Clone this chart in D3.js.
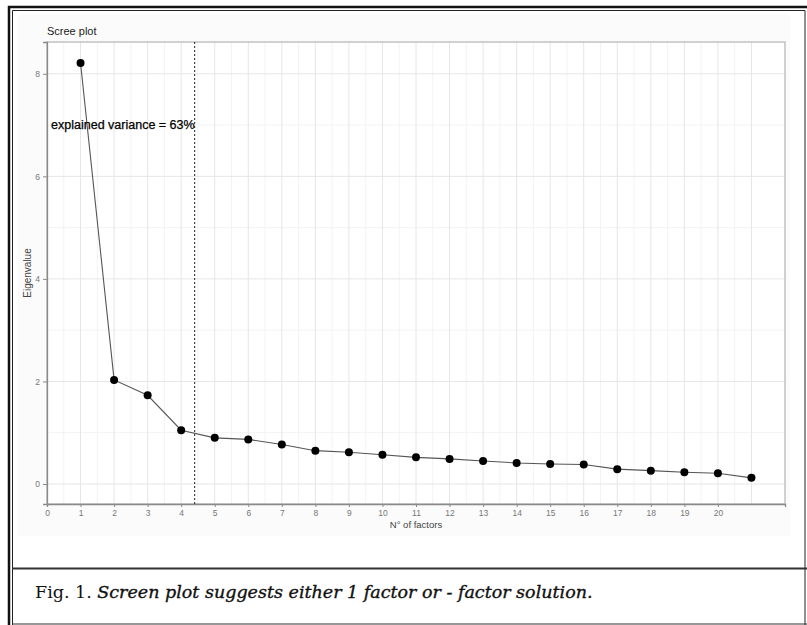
<!DOCTYPE html>
<html>
<head>
<meta charset="utf-8">
<script src="https://cdn.jsdelivr.net/npm/d3@7"></script>
<style>
  body { margin: 0; background: #fff; }
  svg { display: block; }
</style>
</head>
<body>
<svg></svg>
<script>
// scree plot values
var factors = [1, 2, 3, 4, 5, 6, 7, 8, 9, 10, 11, 12, 13, 14, 15, 16, 17, 18, 19, 20, 21];
var eigenvalues = [8.21, 2.03, 1.73, 1.05, 0.90, 0.87, 0.77, 0.65, 0.62, 0.57, 0.52,
                   0.49, 0.45, 0.41, 0.39, 0.38, 0.29, 0.26, 0.23, 0.21, 0.12];
var xTicks = [0, 1, 2, 3, 4, 5, 6, 7, 8, 9, 10, 11, 12, 13, 14, 15, 16, 17, 18, 19, 20];
var yTicks = [0, 2, 4, 6, 8];
var cutoff = 4.4;
var annotation = "explained variance = 63%";

var width = 807;
var height = 625;

var svg = d3.select("svg")
            .attr("width", width)
            .attr("height", height);

// figure frame (double border + caption separator)
var frame = svg.append("g");
frame.append("path")
  .attr("d", "M9,625 L9,7 L807,7")
  .attr("fill", "none")
  .attr("stroke", "#111")
  .attr("stroke-width", 2.5);
frame.append("path")
  .attr("d", "M12.5,625 L12.5,10.5 L805,10.5 L805,625")
  .attr("fill", "none")
  .attr("stroke", "#222")
  .attr("stroke-width", 1);
frame.append("line")
  .attr("x1", 12).attr("x2", 807)
  .attr("y1", 568.5).attr("y2", 568.5)
  .attr("stroke", "#333")
  .attr("stroke-width", 2);
frame.append("line")
  .attr("x1", 12).attr("x2", 807)
  .attr("y1", 624).attr("y2", 624)
  .attr("stroke", "#333")
  .attr("stroke-width", 1.2);

// plot background
svg.append("rect")
  .attr("x", 18).attr("y", 14)
  .attr("width", 772).attr("height", 522)
  .attr("fill", "#fbfbfb");

var panel = {left: 47, top: 42, right: 785, bottom: 504};

var x = d3.scaleLinear()
          .domain([0, 22])
          .range([panel.left, panel.right]);
var y = d3.scaleLinear()
          .domain([-0.39, 8.62])
          .range([panel.bottom, panel.top]);

svg.append("rect")
  .attr("x", panel.left).attr("y", panel.top)
  .attr("width", panel.right - panel.left)
  .attr("height", panel.bottom - panel.top)
  .attr("fill", "#fff");

// grid lines
var minorX = d3.range(0.5, 21.01, 1);
var minorY = [1, 3, 5, 7];
var grid = svg.append("g");
grid.selectAll(".gxm")
  .data(minorX)
  .enter()
  .append("line")
  .attr("x1", function(d) { return x(d); })
  .attr("x2", function(d) { return x(d); })
  .attr("y1", panel.top).attr("y2", panel.bottom)
  .attr("stroke", "#f3f3f3")
  .attr("stroke-width", 1);
grid.selectAll(".gym")
  .data(minorY)
  .enter()
  .append("line")
  .attr("x1", panel.left).attr("x2", panel.right)
  .attr("y1", function(d) { return y(d); })
  .attr("y2", function(d) { return y(d); })
  .attr("stroke", "#f3f3f3")
  .attr("stroke-width", 1);
grid.selectAll(".gx")
  .data(xTicks.concat([21]))
  .enter()
  .append("line")
  .attr("x1", function(d) { return x(d); })
  .attr("x2", function(d) { return x(d); })
  .attr("y1", panel.top).attr("y2", panel.bottom)
  .attr("stroke", "#e6e6e6")
  .attr("stroke-width", 1);
grid.selectAll(".gy")
  .data(yTicks)
  .enter()
  .append("line")
  .attr("x1", panel.left).attr("x2", panel.right)
  .attr("y1", function(d) { return y(d); })
  .attr("y2", function(d) { return y(d); })
  .attr("stroke", "#e6e6e6")
  .attr("stroke-width", 1);

// panel border
svg.append("rect")
  .attr("x", panel.left).attr("y", panel.top)
  .attr("width", panel.right - panel.left)
  .attr("height", panel.bottom - panel.top)
  .attr("fill", "none")
  .attr("stroke", "#b3b3b3")
  .attr("stroke-width", 1.2);

// axes
var xAxis = d3.axisBottom(x)
              .tickValues(xTicks)
              .tickSize(3)
              .tickPadding(3)
              .tickFormat(d3.format("d"));
var yAxis = d3.axisLeft(y)
              .tickValues(yTicks)
              .tickSize(4)
              .tickPadding(3)
              .tickFormat(d3.format("d"));

var gx = svg.append("g")
  .attr("transform", "translate(0," + panel.bottom + ")")
  .call(xAxis);
var gy = svg.append("g")
  .attr("transform", "translate(" + panel.left + ",0)")
  .call(yAxis);

[gx, gy].forEach(function(g) {
  g.select(".domain").attr("stroke", "#8a8a8a").attr("stroke-width", 1.3);
  g.selectAll(".tick line").attr("stroke", "#8a8a8a");
  g.selectAll(".tick text")
    .attr("fill", "#777")
    .attr("font-family", "Liberation Sans, Arial, sans-serif")
    .attr("font-size", "8.5px");
});

// cutoff line
svg.append("line")
  .attr("x1", x(cutoff)).attr("x2", x(cutoff))
  .attr("y1", panel.top).attr("y2", panel.bottom)
  .attr("stroke", "#444")
  .attr("stroke-width", 1.2)
  .attr("stroke-dasharray", "2,2");

// scree line and points
var data = factors.map(function(f, i) { return {f: f, v: eigenvalues[i]}; });

svg.append("path")
  .datum(data)
  .attr("fill", "none")
  .attr("stroke", "#555")
  .attr("stroke-width", 1.1)
  .attr("d", d3.line()
    .x(function(d) { return x(d.f); })
    .y(function(d) { return y(d.v); }));

svg.selectAll(".pt")
  .data(data)
  .enter()
  .append("circle")
  .attr("cx", function(d) { return x(d.f); })
  .attr("cy", function(d) { return y(d.v); })
  .attr("r", 4)
  .attr("fill", "#000");

// annotation
svg.append("text")
  .text(annotation)
  .attr("x", x(cutoff))
  .attr("y", y(7))
  .attr("dy", "0.35em")
  .attr("text-anchor", "end")
  .attr("font-family", "Liberation Sans, Arial, sans-serif")
  .attr("font-size", "12.5px")
  .attr("stroke", "#000")
  .attr("stroke-width", 0.25)
  .attr("fill", "#000");

// titles
svg.append("text")
  .text("Scree plot")
  .attr("x", panel.left)
  .attr("y", 35)
  .attr("font-family", "Liberation Sans, Arial, sans-serif")
  .attr("font-size", "11px")
  .attr("fill", "#222");

svg.append("text")
  .text("N° of factors")
  .attr("x", (panel.left + panel.right) / 2)
  .attr("y", 528)
  .attr("text-anchor", "middle")
  .attr("font-family", "Liberation Sans, Arial, sans-serif")
  .attr("font-size", "9.5px")
  .attr("fill", "#444");

svg.append("text")
  .text("Eigenvalue")
  .attr("transform", "translate(31," + ((panel.top + panel.bottom) / 2) + ") rotate(-90)")
  .attr("text-anchor", "middle")
  .attr("font-family", "Liberation Sans, Arial, sans-serif")
  .attr("font-size", "10px")
  .attr("fill", "#444");

// caption
var caption = svg.append("text")
  .attr("x", 35)
  .attr("y", 598)
  .attr("font-family", "DejaVu Serif, serif")
  .attr("font-size", "17.5px")
  .attr("fill", "#111");
caption.append("tspan").text("Fig. 1. ");
caption.append("tspan")
  .attr("font-style", "italic")
  .attr("stroke", "#111")
  .attr("stroke-width", 0.35)
  .text("Screen plot suggests either 1 factor or - factor solution.");
</script>
</body>
</html>
